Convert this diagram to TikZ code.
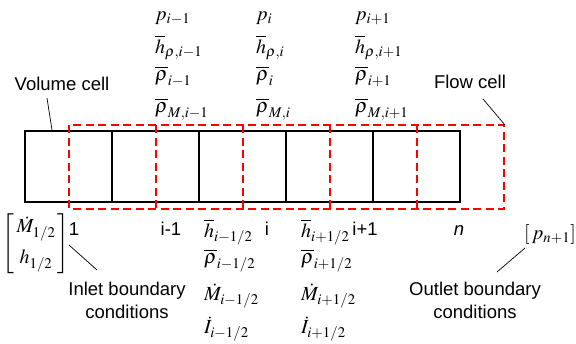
\documentclass[tikz,border=0pt]{standalone}
\usepackage{mathptmx}
\usepackage[no-math]{fontspec}
\setmainfont{Liberation Sans}
\begin{document}
\begin{tikzpicture}[x=1pt,y=-1pt,
  cellbox/.style={draw=black,line width=2pt},
  flowbox/.style={draw=red,line width=2pt,dash pattern=on 8pt off 4.5pt},
  lbl/.style={font=\fontsize{18.5}{22}\selectfont,inner sep=0pt,align=center},
  mth/.style={font=\fontsize{20}{24}\selectfont,inner sep=0pt,anchor=base west},
  idx/.style={font=\fontsize{18.5}{22}\selectfont,inner sep=0pt,anchor=base},
  leader/.style={draw=black,line width=0.7pt}]
\useasboundingbox (0,0) rectangle (576,343);
% volume cells
\foreach \k in {0,...,4}{
  \draw[cellbox] ({25+87*\k},131) rectangle ({112+87*\k},202);
}
% flow cells: outline and inner walls, each drawn once
\draw[flowbox] (69,125) rectangle (504,208.5);
\foreach \k in {1,...,4}{
  \draw[flowbox] ({69+87*\k},125) -- ({69+87*\k},208.5);
}
% top quantities
\node[mth] (p1) at (155,20) {$p_{i-1}$};
\node[mth] (h1) at (155,53) {$\overline{h}_{\rho,i-1}$};
\node[mth] (r1) at (155,80) {$\overline{\rho}_{i-1}$};
\node[mth] (m1) at (155,112) {$\overline{\rho}_{M,i-1}$};
\node[mth] (p2) at (256,20) {$p_{i}$};
\node[mth] (h2) at (256,53) {$\overline{h}_{\rho,i}$};
\node[mth] (r2) at (256,80) {$\overline{\rho}_{i}$};
\node[mth] (m2) at (256,112) {$\overline{\rho}_{M,i}$};
\node[mth] (p3) at (355,20) {$p_{i+1}$};
\node[mth] (h3) at (355,53) {$\overline{h}_{\rho,i+1}$};
\node[mth] (r3) at (355,80) {$\overline{\rho}_{i+1}$};
\node[mth] (m3) at (355,112) {$\overline{\rho}_{M,i+1}$};
% bottom quantities
\node[mth] (bh1) at (204,237) {$\overline{h}_{i-1/2}$};
\node[mth] (br1) at (204,263) {$\overline{\rho}_{i-1/2}$};
\node[mth] (bm1) at (204,300) {$\dot{M}_{i-1/2}$};
\node[mth] (bi1) at (204,333) {$\dot{I}_{i-1/2}$};
\node[mth] (bh2) at (301,237) {$\overline{h}_{i+1/2}$};
\node[mth] (br2) at (301,263) {$\overline{\rho}_{i+1/2}$};
\node[mth] (bm2) at (301,300) {$\dot{M}_{i+1/2}$};
\node[mth] (bi2) at (301,333) {$\dot{I}_{i+1/2}$};
% indices
\node[idx] (i1) at (74,235) {1};
\node[idx] (i2) at (171,235) {i-1};
\node[idx] (i3) at (267,235) {i};
\node[idx] (i4) at (365,235) {i+1};
\node[idx] (i5) at (459,235) {\itshape n};
% boundary conditions
\node[inner sep=0pt,font=\fontsize{20}{24}\selectfont] (inl) at (36,244)
  {$\left[\begin{array}{@{\,}c@{\,}}\dot{M}_{1/2}\\[7pt] h_{1/2}\end{array}\right]$};
\node[inner sep=0pt,font=\fontsize{20}{24}\selectfont] (outl) at (550,234)
  {$\left[\,p_{n+1}\right]$};
% labels
\node[lbl,anchor=base] (vol) at (62,90) {Volume cell};
\node[lbl,anchor=base] (flow) at (470,88) {Flow cell};
\node[lbl,anchor=base] (inlt) at (127,295) {Inlet boundary};
\node[lbl,anchor=base] (inlt2) at (127,318) {conditions};
\node[lbl,anchor=base] (outt) at (475,295) {Outlet boundary};
\node[lbl,anchor=base] (outt2) at (475,318) {conditions};
% leaders
\coordinate (volA) at (47,98);
\coordinate (volB) at (52,130);
\coordinate (flowA) at (483,99);
\coordinate (flowB) at (505,125);
\coordinate (inA) at (69,245);
\coordinate (inB) at (97,270);
\coordinate (outA) at (525,248);
\coordinate (outB) at (497,272);
\draw[leader] (volA) -- (volB);
\draw[leader] (flowA) -- (flowB);
\draw[leader] (inA) -- (inB);
\draw[leader] (outA) -- (outB);
\end{tikzpicture}
\end{document}
